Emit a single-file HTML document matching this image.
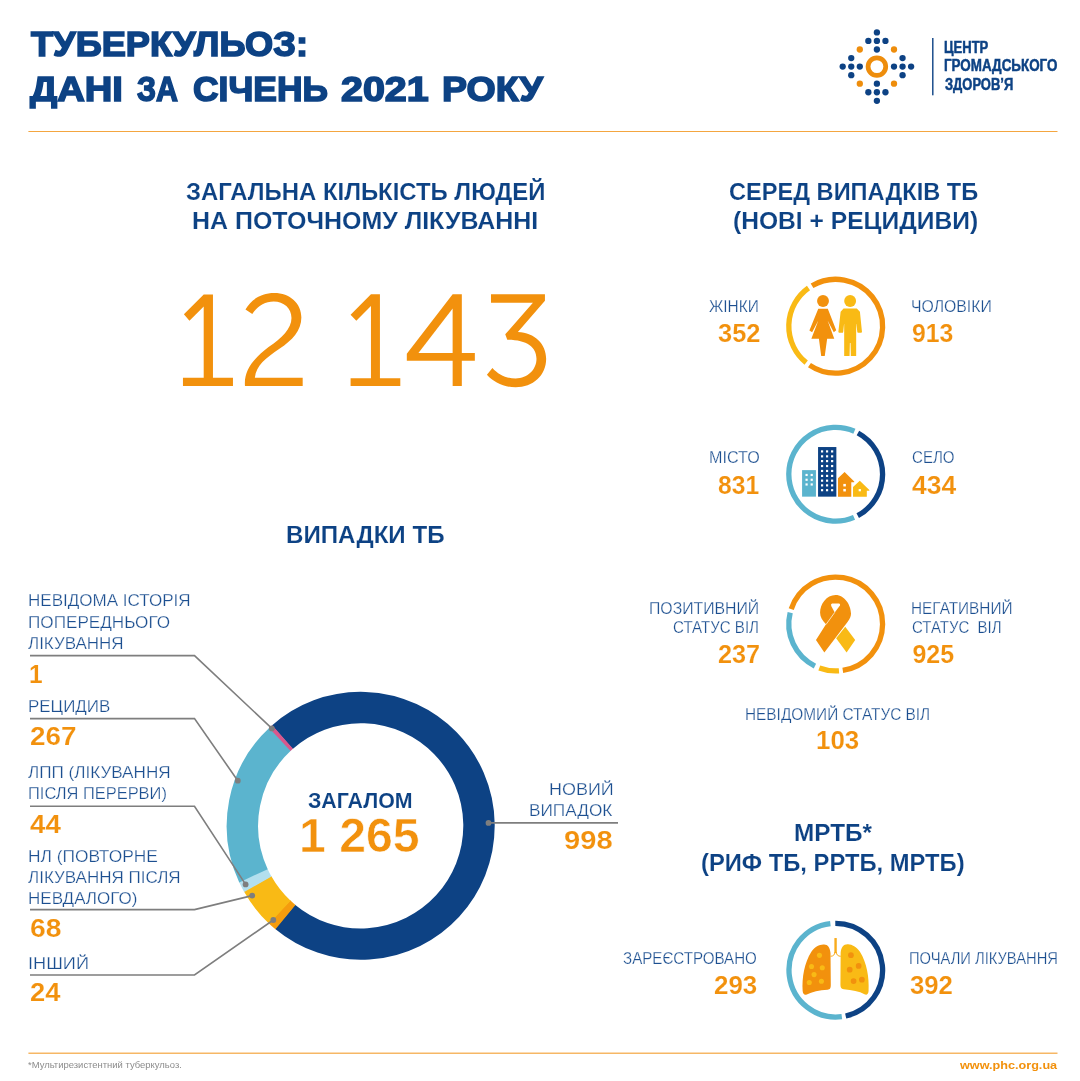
<!DOCTYPE html>
<html lang="uk"><head><meta charset="utf-8"><title>Туберкульоз: дані за січень 2021 року</title>
<style>
html,body{margin:0;padding:0;background:#fff;}
body{width:1080px;height:1081px;position:relative;overflow:hidden;font-family:"Liberation Sans",sans-serif;}
#t{position:absolute;left:0;top:0;width:1080px;height:1081px;will-change:transform;}
#g{position:absolute;left:0;top:0;width:1080px;height:1081px;}
span{position:absolute;white-space:nowrap;line-height:1;transform-origin:0 0;display:block;}
.hs{-webkit-text-stroke:1.6px #0d4284;}
.sh{-webkit-text-stroke:0.12px #fff;}
.nm{-webkit-text-stroke:0.15px #fff;}
.bn{-webkit-text-stroke:0.6px #fff;}
.zg{-webkit-text-stroke:0.08px #fff;}
.lg{-webkit-text-stroke:0.5px #0d4284;}
.th{-webkit-text-stroke:0.25px #fff;}
</style></head><body>
<svg id="g" width="1080" height="1081" viewBox="0 0 1080 1081">
<rect x="28.4" y="131" width="1029.1" height="1" fill="#f4a640"/><rect x="28.4" y="1052.6" width="1029.1" height="1.2" fill="#f4a640"/>
<circle cx="911.10" cy="66.60" r="3.15" fill="#0d4284"/>
<circle cx="902.55" cy="58.05" r="3.15" fill="#0d4284"/>
<circle cx="902.55" cy="75.15" r="3.15" fill="#0d4284"/>
<circle cx="851.25" cy="66.60" r="3.15" fill="#0d4284"/>
<circle cx="876.90" cy="32.40" r="3.15" fill="#0d4284"/>
<circle cx="876.90" cy="83.70" r="3.15" fill="#0d4284"/>
<circle cx="885.45" cy="40.95" r="3.15" fill="#0d4284"/>
<circle cx="885.45" cy="92.25" r="3.15" fill="#0d4284"/>
<circle cx="902.55" cy="66.60" r="3.15" fill="#0d4284"/>
<circle cx="876.90" cy="49.50" r="3.15" fill="#0d4284"/>
<circle cx="876.90" cy="100.80" r="3.15" fill="#0d4284"/>
<circle cx="842.70" cy="66.60" r="3.15" fill="#0d4284"/>
<circle cx="868.35" cy="40.95" r="3.15" fill="#0d4284"/>
<circle cx="859.80" cy="66.60" r="3.15" fill="#0d4284"/>
<circle cx="868.35" cy="92.25" r="3.15" fill="#0d4284"/>
<circle cx="851.25" cy="58.05" r="3.15" fill="#0d4284"/>
<circle cx="876.90" cy="40.95" r="3.15" fill="#0d4284"/>
<circle cx="851.25" cy="75.15" r="3.15" fill="#0d4284"/>
<circle cx="876.90" cy="92.25" r="3.15" fill="#0d4284"/>
<circle cx="894.00" cy="66.60" r="3.15" fill="#0d4284"/>
<circle cx="859.80" cy="49.50" r="3.15" fill="#ee8d0c"/>
<circle cx="894.00" cy="49.50" r="3.15" fill="#ee8d0c"/>
<circle cx="859.80" cy="83.70" r="3.15" fill="#ee8d0c"/>
<circle cx="894.00" cy="83.70" r="3.15" fill="#ee8d0c"/>
<circle cx="876.9" cy="66.6" r="8.83" fill="none" stroke="#ee8d0c" stroke-width="4.75"/>
<rect x="932.1" y="38" width="1.4" height="57.3" fill="#0d4284"/>
<polygon points="203.70,294.44 212.96,294.44 212.96,377.78 232.96,377.78 232.96,385.93 182.96,385.93 182.96,377.78 203.70,377.78 203.70,306.48 189.44,320.74 183.89,314.26" fill="#f2910d" />
<polygon points="370.96,294.26 379.93,294.26 379.93,378.19 400.30,378.19 400.30,385.93 350.59,385.93 350.59,378.19 370.96,378.19 370.96,306.07 356.30,320.74 350.59,314.63" fill="#f2910d" />
<path d="M245.48,309.43 C251.28,299.25 261.46,292.94 274.19,292.94 C289.96,292.94 301.36,303.32 301.36,317.57 C301.36,330.80 292.00,340.47 279.78,348.61 C265.53,358.28 256.37,365.41 254.85,377.82 L302.68,377.82 L302.68,385.97 L244.97,385.97 C243.65,369.48 254.34,358.28 268.59,347.09 C281.82,338.44 291.49,328.77 291.49,318.08 C291.49,308.41 283.85,301.59 273.68,301.59 C264.52,301.59 256.88,306.88 252.30,314.01 Z" fill="#f2910d"/>
<polygon points="452.65,294.26 461.82,294.26 461.82,352.93 474.85,352.93 474.85,360.67 461.82,360.67 461.82,385.93 452.65,385.93 452.65,360.67 406.82,360.67 406.82,353.74" fill="#f2910d" />
<polygon points="452.65,308.52 452.65,352.93 418.43,352.93" fill="#fff" />
<path d="M490.99,294.16 L544.94,294.16 L544.94,300.78 L517.86,332.02 C534.96,332.84 546.16,344.03 546.16,358.79 C546.16,375.59 532.93,387.29 515.62,387.29 C503.41,387.29 493.23,381.69 486.92,374.77 L492.42,367.95 C498.32,374.57 506.46,378.44 515.62,378.44 C527.84,378.44 536.49,369.48 536.49,358.79 C536.49,347.09 526.82,339.76 507.28,339.76 L505.24,334.36 L532.93,302.81 L490.99,302.81 Z" fill="#f2910d"/>
<path d="M282.31,737.20 A118.3,118.3 0 1 1 284.98,916.69" fill="none" stroke="#0d4284" stroke-width="31.4"/>
<path d="M285.45,917.08 A118.3,118.3 0 0 1 279.42,911.75" fill="none" stroke="#f59c0e" stroke-width="31.4"/>
<path d="M279.87,912.18 A118.3,118.3 0 0 1 257.53,883.69" fill="none" stroke="#f9ba15" stroke-width="31.4"/>
<path d="M257.84,884.23 A118.3,118.3 0 0 1 253.22,875.23" fill="none" stroke="#b3dfee" stroke-width="31.4"/>
<path d="M253.48,875.80 A118.3,118.3 0 0 1 280.32,739.00" fill="none" stroke="#5bb4ce" stroke-width="31.4"/>
<path d="M279.87,739.42 A118.3,118.3 0 0 1 282.62,736.93" fill="none" stroke="#d9578c" stroke-width="31.4"/>
<path d="M30,655.6 L194.5,655.6 L271.8,728.4" fill="none" stroke="#7e7e7e" stroke-width="1.6"/>
<circle cx="271.8" cy="728.4" r="2.9" fill="#7e7e7e"/>
<path d="M30,718.6 L194.5,718.6 L237.8,780.7" fill="none" stroke="#7e7e7e" stroke-width="1.6"/>
<circle cx="237.8" cy="780.7" r="2.9" fill="#7e7e7e"/>
<path d="M30,806.2 L194.5,806.2 L245.6,884.4" fill="none" stroke="#7e7e7e" stroke-width="1.6"/>
<circle cx="245.6" cy="884.4" r="2.9" fill="#7e7e7e"/>
<path d="M30,909.6 L194.5,909.6 L252.2,895.6" fill="none" stroke="#7e7e7e" stroke-width="1.6"/>
<circle cx="252.2" cy="895.6" r="2.9" fill="#7e7e7e"/>
<path d="M30,975 L194.5,975 L273.3,920" fill="none" stroke="#7e7e7e" stroke-width="1.6"/>
<circle cx="273.3" cy="920" r="2.9" fill="#7e7e7e"/>
<path d="M488.5,822.9 L618,822.9" fill="none" stroke="#7e7e7e" stroke-width="1.6"/>
<circle cx="488.5" cy="822.9" r="2.9" fill="#7e7e7e"/>
<path d="M812.04,285.71 A46.9,46.9 0 1 1 809.47,365.08" fill="none" stroke="#f2910d" stroke-width="5.3"/><path d="M806.18,362.65 A46.9,46.9 0 0 1 808.47,288.02" fill="none" stroke="#f9ba15" stroke-width="5.3"/>
<circle cx="823.01" cy="301.01" r="5.95" fill="#f2910d"/>
<polygon points="818.28,308.65 827.80,308.65 836.22,330.28 833.76,332.23 827.60,320.57 834.27,338.70 827.15,338.70 824.75,356.06 821.19,356.06 818.92,338.70 811.35,338.70 818.34,320.57 812.12,332.23 809.40,330.48" fill="#f2910d" />
<circle cx="850.14" cy="301.01" r="5.95" fill="#f9ba15"/>
<polygon points="843.54,308.46 856.81,308.46 859.92,311.70 861.99,332.10 861.35,332.75 857.78,332.75 857.33,332.10 856.36,324.00 856.17,324.00 856.17,356.06 850.85,356.06 850.53,343.11 849.88,343.11 849.56,356.06 844.18,356.06 844.18,324.00 844.05,324.00 843.21,332.10 842.76,332.75 839.00,332.75 838.35,332.10 840.62,311.70" fill="#f9ba15" />
<path d="M857.93,432.96 A46.9,46.9 0 0 1 857.72,515.66" fill="none" stroke="#0d4284" stroke-width="5.3"/><path d="M854.03,517.42 A46.9,46.9 0 1 1 854.40,431.24" fill="none" stroke="#5bb4ce" stroke-width="5.3"/>
<rect x="802.08" y="470.12" width="13.86" height="26.53" fill="#5bb4ce"/>
<rect x="805.49" y="473.88" width="2.18" height="2.18" fill="#fff"/>
<rect x="810.63" y="473.88" width="2.18" height="2.18" fill="#fff"/>
<rect x="805.49" y="478.67" width="2.18" height="2.18" fill="#fff"/>
<rect x="810.63" y="478.67" width="2.18" height="2.18" fill="#fff"/>
<rect x="805.49" y="483.38" width="2.18" height="2.18" fill="#fff"/>
<rect x="810.63" y="483.38" width="2.18" height="2.18" fill="#fff"/>
<rect x="818.06" y="447.04" width="18.30" height="49.61" fill="#0d4284"/>
<rect x="820.98" y="450.31" width="2.18" height="2.18" fill="#fff"/>
<rect x="825.97" y="450.31" width="2.18" height="2.18" fill="#fff"/>
<rect x="831.04" y="450.31" width="2.18" height="2.18" fill="#fff"/>
<rect x="820.98" y="455.24" width="2.18" height="2.18" fill="#fff"/>
<rect x="825.97" y="455.24" width="2.18" height="2.18" fill="#fff"/>
<rect x="831.04" y="455.24" width="2.18" height="2.18" fill="#fff"/>
<rect x="820.98" y="460.02" width="2.18" height="2.18" fill="#fff"/>
<rect x="825.97" y="460.02" width="2.18" height="2.18" fill="#fff"/>
<rect x="831.04" y="460.02" width="2.18" height="2.18" fill="#fff"/>
<rect x="820.98" y="464.95" width="2.18" height="2.18" fill="#fff"/>
<rect x="825.97" y="464.95" width="2.18" height="2.18" fill="#fff"/>
<rect x="831.04" y="464.95" width="2.18" height="2.18" fill="#fff"/>
<rect x="820.98" y="469.87" width="2.18" height="2.18" fill="#fff"/>
<rect x="825.97" y="469.87" width="2.18" height="2.18" fill="#fff"/>
<rect x="831.04" y="469.87" width="2.18" height="2.18" fill="#fff"/>
<rect x="820.98" y="474.80" width="2.18" height="2.18" fill="#fff"/>
<rect x="825.97" y="474.80" width="2.18" height="2.18" fill="#fff"/>
<rect x="831.04" y="474.80" width="2.18" height="2.18" fill="#fff"/>
<rect x="820.98" y="479.58" width="2.18" height="2.18" fill="#fff"/>
<rect x="825.97" y="479.58" width="2.18" height="2.18" fill="#fff"/>
<rect x="831.04" y="479.58" width="2.18" height="2.18" fill="#fff"/>
<rect x="820.98" y="484.30" width="2.18" height="2.18" fill="#fff"/>
<rect x="825.97" y="484.30" width="2.18" height="2.18" fill="#fff"/>
<rect x="831.04" y="484.30" width="2.18" height="2.18" fill="#fff"/>
<rect x="820.98" y="489.09" width="2.18" height="2.18" fill="#fff"/>
<rect x="825.97" y="489.09" width="2.18" height="2.18" fill="#fff"/>
<rect x="831.04" y="489.09" width="2.18" height="2.18" fill="#fff"/>
<polygon points="844.59,471.88 854.23,481.52 854.23,482.29 851.27,482.29 851.27,496.65 837.97,496.65 837.97,478.35" fill="#f2910d" />
<rect x="843.32" y="483.91" width="2.53" height="2.53" fill="#fff"/>
<rect x="843.32" y="488.91" width="2.53" height="2.53" fill="#fff"/>
<polygon points="859.79,480.68 869.36,489.96 869.36,490.81 866.82,490.81 866.82,496.65 853.03,496.65 853.03,487.01" fill="#f9ba15" />
<rect x="858.66" y="489.05" width="2.25" height="2.25" fill="#fff"/>
<path d="M791.22,609.12 A46.9,46.9 0 1 1 842.79,670.36" fill="none" stroke="#f2910d" stroke-width="5.3"/><path d="M838.97,670.79 A46.9,46.9 0 0 1 819.28,667.93" fill="none" stroke="#f9ba15" stroke-width="5.3"/><path d="M814.92,666.05 A46.9,46.9 0 0 1 790.19,612.65" fill="none" stroke="#5bb4ce" stroke-width="5.3"/>
<polygon points="845.28,626.80 855.16,640.05 846.62,652.56 836.12,638.34" fill="#f9ba15" />
<path d="M815.98,640.05 L824.34,652.56 L847.72,621.74 C849.98,618.68 851.01,616.24 851.01,613.50 C851.01,605.26 844.79,594.88 835.63,594.88 C826.48,594.88 820.07,604.04 820.07,612.58 C820.07,616.85 822.51,620.82 825.99,624.30 Z" fill="#f2910d" />
<path d="M832.09,603.55 L839.17,603.55 Q840.64,603.92 839.91,605.62 L834.72,612.58 L831.24,605.99 Q830.51,603.92 832.09,603.55 Z" fill="#fff" />
<path d="M834.78,612.34 L825.99,624.54" stroke="#fff" stroke-width="0.7" fill="none"/>
<path d="M835.29,923.30 A46.9,46.9 0 0 1 845.69,1016.02" fill="none" stroke="#0d4284" stroke-width="5.3"/><path d="M841.82,1016.70 A46.9,46.9 0 1 1 830.39,923.60" fill="none" stroke="#5bb4ce" stroke-width="5.3"/>
<path d="M823.33,944.53 C827.56,944.10 830.02,947.13 830.51,953.11 L830.79,984.78 C830.79,988.30 830.02,989.35 827.56,989.71 C819.11,990.27 812.07,991.82 806.80,994.49 C804.69,995.34 803.07,994.63 802.64,991.11 C801.87,977.04 804.33,962.96 811.37,951.70 C814.89,946.78 819.11,944.81 823.33,944.53 Z" fill="#f2910d" />
<path d="M848.11,944.32 C843.74,943.96 841.07,947.13 840.65,953.11 L840.43,984.08 C840.43,987.59 841.07,988.86 843.74,989.35 C852.19,990.06 859.22,991.47 864.50,994.28 C866.61,995.19 868.23,994.49 868.58,990.97 C869.22,977.04 866.97,962.96 859.93,951.70 C856.41,946.78 852.19,944.67 848.11,944.32 Z" fill="#f9ba15" />
<circle cx="819.46" cy="955.36" r="2.55" fill="#f9ba15"/>
<circle cx="811.51" cy="966.48" r="2.55" fill="#f9ba15"/>
<circle cx="822.28" cy="967.68" r="2.55" fill="#f9ba15"/>
<circle cx="814.05" cy="974.58" r="2.55" fill="#f9ba15"/>
<circle cx="809.26" cy="982.53" r="2.55" fill="#f9ba15"/>
<circle cx="821.43" cy="981.26" r="2.55" fill="#f9ba15"/>
<circle cx="850.92" cy="955.22" r="2.85" fill="#f2910d"/>
<circle cx="858.66" cy="965.92" r="2.85" fill="#f2910d"/>
<circle cx="849.72" cy="969.65" r="2.85" fill="#f2910d"/>
<circle cx="853.59" cy="981.05" r="2.85" fill="#f2910d"/>
<circle cx="861.90" cy="979.71" r="2.85" fill="#f2910d"/>
<rect x="834.38" y="938.05" width="2.39" height="15.06" fill="#f8ab1c"/>
<path d="M834.81,952.06 C834.81,954.87 833.19,956.28 830.51,956.28 " fill="none" stroke="#f8ab1c" stroke-width="1"/>
<path d="M836.35,952.06 C836.35,954.87 838.11,956.28 840.72,956.28 " fill="none" stroke="#f8ab1c" stroke-width="1"/>
</svg>
<div id="t">
<span class="hs" style="left:31.30px;top:26px;font-size:35px;color:#0d4284;font-weight:bold;transform:scaleX(1.0344);">ТУБЕРКУЛЬОЗ:</span>
<span class="hs" style="left:30.40px;top:71px;font-size:35px;color:#0d4284;font-weight:bold;transform:scaleX(1.0912);">ДАНІ</span>
<span class="hs" style="left:137.40px;top:71px;font-size:35px;color:#0d4284;font-weight:bold;transform:scaleX(0.8694);">ЗА</span>
<span class="hs" style="left:193.29px;top:71px;font-size:35px;color:#0d4284;font-weight:bold;transform:scaleX(1.0121);">СІЧЕНЬ</span>
<span class="hs" style="left:341.27px;top:71px;font-size:35px;color:#0d4284;font-weight:bold;transform:scaleX(1.1270);">2021</span>
<span class="hs" style="left:441.56px;top:71px;font-size:35px;color:#0d4284;font-weight:bold;transform:scaleX(1.0713);">РОКУ</span>
<span class="lg" style="left:944.19px;top:40px;font-size:16px;color:#0d4284;font-weight:bold;transform:scaleX(0.8149);">ЦЕНТР</span>
<span class="lg" style="left:944.16px;top:58px;font-size:16px;color:#0d4284;font-weight:bold;transform:scaleX(0.8375);">ГРОМАДСЬКОГО</span>
<span class="lg" style="left:945.00px;top:77px;font-size:16px;color:#0d4284;font-weight:bold;transform:scaleX(0.8093);">ЗДОРОВ’Я</span>
<span class="sh" style="left:185.60px;top:181px;font-size:23px;color:#0d4284;font-weight:bold;transform:scaleX(1.0389);">ЗАГАЛЬНА КІЛЬКІСТЬ ЛЮДЕЙ</span>
<span class="sh" style="left:191.91px;top:210px;font-size:23px;color:#0d4284;font-weight:bold;transform:scaleX(1.0854);">НА ПОТОЧНОМУ ЛІКУВАННІ</span>
<span class="sh" style="left:728.60px;top:181px;font-size:23px;color:#0d4284;font-weight:bold;transform:scaleX(1.0256);">СЕРЕД ВИПАДКІВ ТБ</span>
<span class="sh" style="left:732.83px;top:210px;font-size:23px;color:#0d4284;font-weight:bold;transform:scaleX(1.0697);">(НОВІ + РЕЦИДИВИ)</span>
<span class="sh" style="left:285.75px;top:524px;font-size:23px;color:#0d4284;font-weight:bold;transform:scaleX(1.0493);">ВИПАДКИ ТБ</span>
<span class="sh" style="left:793.94px;top:822px;font-size:23px;color:#0d4284;font-weight:bold;transform:scaleX(1.0566);">МРТБ*</span>
<span class="sh" style="left:701.47px;top:852px;font-size:23px;color:#0d4284;font-weight:bold;transform:scaleX(1.0334);">(РИФ ТБ, РРТБ, МРТБ)</span>
<span class="th" style="left:709.40px;top:299px;font-size:16px;color:#1c4f90;transform:scaleX(0.9649);">ЖІНКИ</span>
<span class="nm" style="left:717.50px;top:321px;font-size:25px;color:#f2910d;font-weight:bold;transform:scaleX(1.0170);">352</span>
<span class="th" style="left:910.91px;top:299px;font-size:16px;color:#1c4f90;transform:scaleX(0.9874);">ЧОЛОВІКИ</span>
<span class="nm" style="left:912.30px;top:321px;font-size:25px;color:#f2910d;font-weight:bold;transform:scaleX(0.9925);">913</span>
<span class="th" style="left:708.69px;top:450px;font-size:16px;color:#1c4f90;transform:scaleX(1.0092);">МІСТО</span>
<span class="nm" style="left:717.80px;top:473px;font-size:25px;color:#f2910d;font-weight:bold;transform:scaleX(0.9855);">831</span>
<span class="th" style="left:911.90px;top:450px;font-size:16px;color:#1c4f90;transform:scaleX(0.9413);">СЕЛО</span>
<span class="nm" style="left:911.60px;top:473px;font-size:25px;color:#f2910d;font-weight:bold;transform:scaleX(1.0572);">434</span>
<span class="th" style="left:648.91px;top:601px;font-size:16px;color:#1c4f90;transform:scaleX(0.9872);">ПОЗИТИВНИЙ</span>
<span class="th" style="left:673.10px;top:620px;font-size:16px;color:#1c4f90;transform:scaleX(0.9422);">СТАТУС ВІЛ</span>
<span class="nm" style="left:718.00px;top:642px;font-size:25px;color:#f2910d;font-weight:bold;transform:scaleX(1.0096);">237</span>
<span class="th" style="left:911.44px;top:601px;font-size:16px;color:#1c4f90;transform:scaleX(0.9603);">НЕГАТИВНИЙ</span>
<span class="th" style="left:911.80px;top:620px;font-size:16px;color:#1c4f90;transform:scaleX(0.9360);">СТАТУС  ВІЛ</span>
<span class="nm" style="left:912.40px;top:642px;font-size:25px;color:#f2910d;font-weight:bold;">925</span>
<span class="th" style="left:744.74px;top:707px;font-size:16px;color:#1c4f90;transform:scaleX(0.9611);">НЕВІДОМИЙ СТАТУС ВІЛ</span>
<span class="nm" style="left:815.67px;top:728px;font-size:25px;color:#f2910d;font-weight:bold;transform:scaleX(1.0350);">103</span>
<span class="th" style="left:623.30px;top:951px;font-size:16px;color:#1c4f90;transform:scaleX(0.9454);">ЗАРЕЄСТРОВАНО</span>
<span class="nm" style="left:714.40px;top:973px;font-size:25px;color:#f2910d;font-weight:bold;transform:scaleX(1.0366);">293</span>
<span class="th" style="left:909.28px;top:951px;font-size:16px;color:#1c4f90;transform:scaleX(0.9204);">ПОЧАЛИ ЛІКУВАННЯ</span>
<span class="nm" style="left:910.20px;top:973px;font-size:25px;color:#f2910d;font-weight:bold;transform:scaleX(1.0292);">392</span>
<span class="zg" style="left:307.50px;top:791px;font-size:21.5px;color:#0d4284;font-weight:bold;transform:scaleX(0.9930);">ЗАГАЛОМ</span>
<span class="bn" style="left:298.65px;top:811px;font-size:49px;color:#f2910d;font-weight:bold;transform:scaleX(0.9834);">1 265</span>
<span class="th" style="left:548.88px;top:782px;font-size:16px;color:#1c4f90;transform:scaleX(1.1216);">НОВИЙ</span>
<span class="th" style="left:528.92px;top:803px;font-size:16px;color:#1c4f90;transform:scaleX(1.0757);">ВИПАДОК</span>
<span class="nm" style="left:564.30px;top:828px;font-size:25px;color:#f2910d;font-weight:bold;transform:scaleX(1.1649);">998</span>
<span class="th" style="left:28.43px;top:593px;font-size:16px;color:#1c4f90;transform:scaleX(1.0651);">НЕВІДОМА ІСТОРІЯ</span>
<span class="th" style="left:28.43px;top:615px;font-size:16px;color:#1c4f90;transform:scaleX(1.0708);">ПОПЕРЕДНЬОГО</span>
<span class="th" style="left:28.00px;top:636px;font-size:16px;color:#1c4f90;transform:scaleX(1.0611);">ЛІКУВАННЯ</span>
<span class="nm" style="left:28.54px;top:662px;font-size:25.5px;color:#f2910d;font-weight:bold;transform:scaleX(0.9615);">1</span>
<span class="th" style="left:28.44px;top:699px;font-size:16px;color:#1c4f90;transform:scaleX(1.0590);">РЕЦИДИВ</span>
<span class="nm" style="left:29.50px;top:724px;font-size:25.5px;color:#f2910d;font-weight:bold;transform:scaleX(1.0917);">267</span>
<span class="th" style="left:28.00px;top:765px;font-size:16px;color:#1c4f90;transform:scaleX(1.0692);">ЛПП (ЛІКУВАННЯ</span>
<span class="th" style="left:28.47px;top:786px;font-size:16px;color:#1c4f90;transform:scaleX(1.0274);">ПІСЛЯ ПЕРЕРВИ)</span>
<span class="nm" style="left:29.50px;top:812px;font-size:25.5px;color:#f2910d;font-weight:bold;transform:scaleX(1.0880);">44</span>
<span class="th" style="left:28.42px;top:849px;font-size:16px;color:#1c4f90;transform:scaleX(1.0838);">НЛ (ПОВТОРНЕ</span>
<span class="th" style="left:28.00px;top:870px;font-size:16px;color:#1c4f90;transform:scaleX(1.0629);">ЛІКУВАННЯ ПІСЛЯ</span>
<span class="th" style="left:28.44px;top:891px;font-size:16px;color:#1c4f90;transform:scaleX(1.0634);">НЕВДАЛОГО)</span>
<span class="nm" style="left:29.50px;top:916px;font-size:25.5px;color:#f2910d;font-weight:bold;transform:scaleX(1.1089);">68</span>
<span class="th" style="left:28.36px;top:956px;font-size:16px;color:#1c4f90;transform:scaleX(1.1358);">ІНШИЙ</span>
<span class="nm" style="left:29.50px;top:980px;font-size:25.5px;color:#f2910d;font-weight:bold;transform:scaleX(1.0709);">24</span>
<span style="left:28.25px;top:1061px;font-size:8.5px;color:#8c8c8c;transform:scaleX(1.1115);">*Мультирезистентний туберкульоз.</span>
<span style="left:959.50px;top:1060px;font-size:11.5px;color:#f2910d;font-weight:bold;transform:scaleX(1.0990);">www.phc.org.ua</span>
</div>
</body></html>
